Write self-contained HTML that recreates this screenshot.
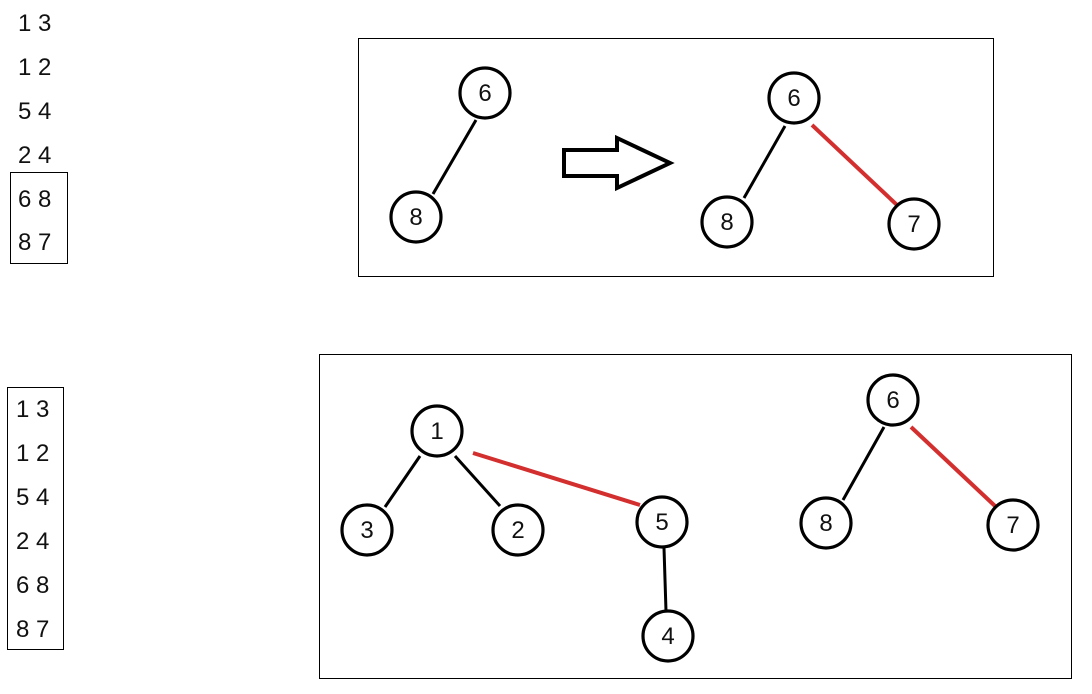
<!DOCTYPE html>
<html><head><style>
body{margin:0;background:#fff;width:1092px;height:689px;overflow:hidden}
svg text{font-family:"Liberation Sans","DejaVu Sans",sans-serif}
</style></head><body>
<svg width="1092" height="689" viewBox="0 0 1092 689" xmlns="http://www.w3.org/2000/svg">
<g font-size="24" fill="#111">
<text x="18" y="31">1 3</text><text x="18" y="75">1 2</text><text x="18" y="119">5 4</text><text x="18" y="163">2 4</text><text x="18" y="207">6 8</text><text x="18" y="250">8 7</text>
<text x="16" y="417">1 3</text><text x="16" y="461">1 2</text><text x="16" y="505">5 4</text><text x="16" y="549">2 4</text><text x="16" y="593">6 8</text><text x="16" y="637">8 7</text>
</g>
<g fill="none" stroke="#000" stroke-width="1">
<rect x="10.5" y="172.5" width="57" height="91"/>
<rect x="7.5" y="387.5" width="56" height="262"/>
<rect x="358.5" y="38.5" width="635" height="238"/>
<rect x="319.5" y="354.5" width="752" height="324"/>
</g>
<g stroke="#000" stroke-width="3" fill="none">
<line x1="476" y1="120" x2="433" y2="194"/>
<line x1="785" y1="126" x2="744" y2="198"/>
<line x1="420" y1="456" x2="385" y2="507"/>
<line x1="455" y1="456" x2="500" y2="506"/>
<line x1="664" y1="548" x2="666" y2="611"/>
<line x1="884" y1="427" x2="843" y2="500"/>
<polygon points="564,150 617,150 617,138 670,163 617,188 617,176 564,176" stroke-width="4" stroke-linejoin="miter"/>
</g>
<g stroke="#d32f2f" stroke-width="4">
<line x1="812" y1="125" x2="897" y2="205"/>
<line x1="473" y1="453" x2="640" y2="505"/>
<line x1="911" y1="427" x2="995" y2="506"/>
</g>
<g stroke="#000" stroke-width="3.2" fill="#fff">
<circle cx="485" cy="93" r="25"/><circle cx="416" cy="217" r="25"/>
<circle cx="794" cy="98" r="25"/><circle cx="727" cy="222" r="25"/><circle cx="914" cy="224" r="25"/>
<circle cx="437" cy="431" r="25"/><circle cx="367" cy="530" r="25"/><circle cx="518" cy="530" r="25"/>
<circle cx="662" cy="522" r="25"/><circle cx="668" cy="636" r="25"/>
<circle cx="893" cy="400" r="25"/><circle cx="826" cy="523" r="25"/><circle cx="1013" cy="525" r="25"/>
</g>
<g font-size="24" fill="#111" text-anchor="middle">
<text x="485" y="101">6</text><text x="416" y="225">8</text>
<text x="794" y="106">6</text><text x="727" y="230">8</text><text x="914" y="232">7</text>
<text x="437" y="439">1</text><text x="367" y="538">3</text><text x="518" y="538">2</text>
<text x="662" y="530">5</text><text x="668" y="644">4</text>
<text x="893" y="408">6</text><text x="826" y="531">8</text><text x="1013" y="533">7</text>
</g>
</svg>
</body></html>
